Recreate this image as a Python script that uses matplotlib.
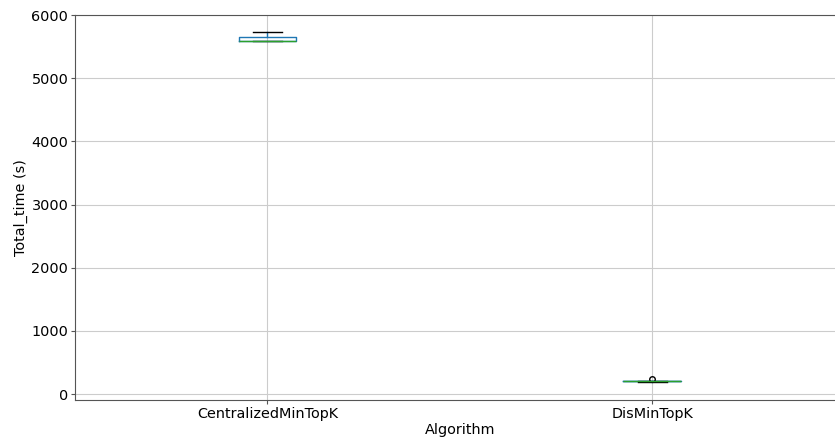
import matplotlib
matplotlib.use('Agg')
import matplotlib.pyplot as plt

# run times per algorithm (seconds)
algorithms = ['CentralizedMinTopK', 'DisMinTopK']
centralized_times = [5584, 5588, 5590, 5648, 5735]
distributed_times = [198, 199, 200, 201, 230]

plt.rc('font', size=10.4)

fig = plt.figure(figsize=(8.35, 4.42), dpi=100)
ax = fig.add_axes([0.0898, 0.095, 0.9216, 0.871])

ax.boxplot(
    [centralized_times, distributed_times],
    tick_labels=algorithms,
    boxprops=dict(color='C0'),
    whiskerprops=dict(color='C0'),
    medianprops=dict(color='C2'),
    capprops=dict(color='k'),
    flierprops=dict(marker='o', markeredgecolor='k', markerfacecolor='none', markersize=4),
)
ax.grid(True, color='#cccccc')
ax.set_axisbelow(True)
for spine in ax.spines.values():
    spine.set_color('#555555')
ax.tick_params(color='#555555', length=3, pad=1.8)
ax.set_xlim(0.5, 2.5)
ax.set_ylim(-95, 6000)
ax.set_yticks([0, 1000, 2000, 3000, 4000, 5000, 6000])
ax.set_xlabel('Algorithm', labelpad=2)
ax.set_ylabel('Total_time (s)', labelpad=2.5)

fig.savefig('out.png', dpi=100)
